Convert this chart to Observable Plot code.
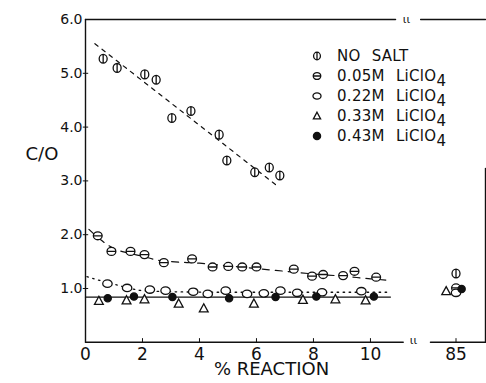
<!DOCTYPE html>
<html><head><meta charset="utf-8">
<script src="https://cdn.jsdelivr.net/npm/d3@7"></script>
<script src="https://cdn.jsdelivr.net/npm/@observablehq/plot@0.6"></script>
<style>
body{margin:0;background:#fff;}
#wrap{position:relative;width:486px;height:383px;overflow:hidden;font-family:"DejaVu Sans",sans-serif;color:#111;}
#legend{position:absolute;left:308px;top:46px;}
.row{display:flex;align-items:center;height:20px;}
.row svg{display:block;}
.row span.t{margin-left:11px;font-size:15px;letter-spacing:0.3px;word-spacing:6px;white-space:nowrap;line-height:20px;}
.row sub{font-size:15px;vertical-align:-5px;line-height:0;}
</style></head><body><div id="wrap"></div>
<script>
// ---- data ----
const noSalt = [[0.62,5.27],[1.11,5.10],[2.08,4.98],[2.48,4.88],[3.03,4.17],[3.70,4.30],[4.69,3.86],[4.96,3.38],[5.94,3.16],[6.45,3.25],[6.82,3.10],[85.0,1.28]];
const m005 = [[0.43,1.98],[0.91,1.69],[1.58,1.69],[2.07,1.63],[2.75,1.48],[3.74,1.55],[4.46,1.40],[5.01,1.41],[5.50,1.40],[6.00,1.40],[7.31,1.36],[7.95,1.23],[8.34,1.26],[9.04,1.24],[9.44,1.32],[10.20,1.21],[85.0,1.01]];
const m022 = [[0.77,1.09],[1.46,1.01],[2.26,0.98],[2.81,0.96],[3.78,0.94],[4.29,0.90],[4.92,0.96],[5.67,0.90],[6.26,0.91],[6.84,0.96],[7.43,0.92],[8.30,0.93],[9.68,0.95],[85.0,0.92]];
const m033 = [[0.47,0.77],[1.44,0.78],[2.07,0.80],[3.27,0.72],[4.15,0.63],[5.91,0.72],[7.63,0.79],[8.77,0.80],[9.83,0.78],[84.65,0.95]];
const m043 = [[0.78,0.82],[1.70,0.85],[3.05,0.84],[5.04,0.82],[6.67,0.84],[8.10,0.85],[10.12,0.85],[85.2,0.99]];

const fitNoSalt = [[0.33,5.55],[6.72,2.91]];
const fit005 = [[0.12,2.10],[0.5,1.92],[1,1.74],[1.5,1.66],[2,1.60],[2.5,1.53],[3,1.50],[4,1.47],[5,1.42],[6,1.37],[7,1.32],[8,1.27],[9,1.23],[10,1.18],[10.7,1.15]];
const fit022 = [[0.05,1.22],[0.5,1.15],[1,1.08],[1.5,1.01],[2,0.96],[3,0.94],[5,0.93],[10.7,0.93]];
const fit043 = [[0,0.84],[10.7,0.84]];

const xTicks = [0,2,4,6,8,10,85];
const yTicks = [1,2,3,4,5,6];
const legendNames = ["NO SALT","0.05M LiClO","0.22M LiClO","0.33M LiClO","0.43M LiClO"];

// ---- symbols ----
function ell(ctx, rx, ry){const k=0.5523;ctx.moveTo(rx,0);ctx.bezierCurveTo(rx,ry*k,rx*k,ry,0,ry);ctx.bezierCurveTo(-rx*k,ry,-rx,ry*k,-rx,0);ctx.bezierCurveTo(-rx,-ry*k,-rx*k,-ry,0,-ry);ctx.bezierCurveTo(rx*k,-ry,rx,-ry*k,rx,0);ctx.closePath();}
const symV = {draw(ctx,size){const r=Math.sqrt(size/Math.PI);ell(ctx,r*0.95,r*1.05);ctx.moveTo(0,-r*1.05);ctx.lineTo(0,r*1.05);}};
const symH = {draw(ctx,size){const r=Math.sqrt(size/Math.PI);ell(ctx,r*1.05,r*0.95);ctx.moveTo(-r*1.05,0);ctx.lineTo(r*1.05,0);}};
const symO = {draw(ctx,size){const r=Math.sqrt(size/Math.PI);ell(ctx,r*1.12,r*0.88);}};
const symT = {draw(ctx,size){const r=Math.sqrt(size/Math.PI);ctx.moveTo(0,-r*1.05);ctx.lineTo(r*1.0,r*0.8);ctx.lineTo(-r*1.0,r*0.8);ctx.closePath();}};
const symF = {draw(ctx,size){const r=Math.sqrt(size/Math.PI);ctx.moveTo(r,0);ctx.arc(0,0,r,0,2*Math.PI);ctx.closePath();}};

const series = [
  {data:noSalt, symbol:symV, fill:"white", r:4.2},
  {data:m005, symbol:symH, fill:"white", r:4.2},
  {data:m022, symbol:symO, fill:"white", r:4.2},
  {data:m033, symbol:symT, fill:"white", r:4.4},
  {data:m043, symbol:symF, fill:"#111", r:3.6}
];

const ink = "#111";
const xDomain = [0, 11.3, 83.7, 86.05];
const xRange = [85, 407, 419, 485];

// frame segments (axis box with breaks), in data units, as point lists with an id
const frameSegs = [
  [0,0,0,6],
  [0,0,11.15,0],
  [84.09,0,86.05,0],
  [0,6,10.88,6],
  [83.74,6,86.05,6],
  [86.05,0,86.05,3.23]
];
const xTickSegs = xTicks.filter(t => t > 0).map(t => [t,0,t,0.07]);
const yTickSegs = yTicks.slice(0, -1).map(t => [-0.08,t,0.08,t]);
const toPts = segs => segs.flatMap((s, i) => [{id:i, x:s[0], y:s[1]}, {id:i, x:s[2], y:s[3]}]);

const plot = Plot.plot({
  width: 486, height: 383,
  marginLeft: 85, marginRight: 1, marginTop: 19, marginBottom: 41,
  style: {fontFamily: "DejaVu Sans, sans-serif", fontSize: "14px", background: "white", color: ink},
  x: {type: "linear", domain: xDomain, range: xRange},
  y: {type: "linear", domain: [0, 6], range: [341.8, 19]},
  marks: [
    Plot.line(fitNoSalt, {x: d=>d[0], y: d=>d[1], stroke: ink, strokeWidth: 1.2, strokeDasharray: "4,5"}),
    Plot.line(fit005, {x: d=>d[0], y: d=>d[1], stroke: ink, strokeWidth: 1.2, strokeDasharray: "7,6", curve: "monotone-x"}),
    Plot.line(fit022, {x: d=>d[0], y: d=>d[1], stroke: ink, strokeWidth: 1.3, strokeDasharray: "1.5,4.5", curve: "monotone-x"}),
    Plot.line(fit043, {x: d=>d[0], y: d=>d[1], stroke: ink, strokeWidth: 1.4}),
    ...series.map(s => Plot.dot(s.data, {x: d=>d[0], y: d=>d[1], symbol: s.symbol, r: s.r, stroke: ink, strokeWidth: 1.3, fill: s.fill})),
    Plot.line(toPts(frameSegs), {x: "x", y: "y", z: "id", stroke: ink, strokeWidth: 1.4}),
    Plot.line(toPts(xTickSegs), {x: "x", y: "y", z: "id", stroke: ink, strokeWidth: 1}),
    Plot.line(toPts(yTickSegs), {x: "x", y: "y", z: "id", stroke: ink, strokeWidth: 1}),
    Plot.text([0], {x: 11.3, y: 0, dx: 6, dy: -2, text: () => "ιι", fontSize: 11, fill: ink}),
    Plot.text([6], {x: 10.88, y: 6, dx: 11, dy: 0, text: () => "ιι", fontSize: 11, fill: ink}),
    Plot.axisY(yTicks, {tickSize: 0, tickPadding: 3, tickFormat: d => d.toFixed(1), fontSize: 14, label: null}),
    Plot.axisX(xTicks, {tickSize: 0, tickPadding: 5, tickFormat: d => String(d), fontSize: 17, label: null}),
    Plot.text(["% REACTION"], {frameAnchor: "bottom", dx: -14, dy: 32, text: d=>d, fontSize: 18, fill: ink, ariaLabel: "xlabel"}),
    Plot.text(["C/O"], {frameAnchor: "left", dx: -60, dy: -27, text: d=>d, fontSize: 18, fill: ink})
  ]
});
d3.select(plot).selectAll('g[aria-label="xlabel"] text').style("letter-spacing", "2.5px");
const wrap = document.getElementById("wrap");
wrap.appendChild(plot);

// legend
const leg = d3.select(wrap).append("div").attr("id", "legend");
series.forEach((s, i) => {
  const row = leg.append("div").attr("class", "row");
  const svg = row.append("svg").attr("width", 18).attr("height", 20);
  const p = d3.path();
  s.symbol.draw(p, Math.PI * 3.6 * 3.6);
  svg.append("path").attr("transform", "translate(9,10)").attr("d", p.toString())
    .attr("fill", s.fill).attr("stroke", ink).attr("stroke-width", 1.3);
  const t = row.append("span").attr("class", "t");
  t.text(legendNames[i]);
  if (i > 0) t.append("sub").text("4");
});
</script></body></html>
